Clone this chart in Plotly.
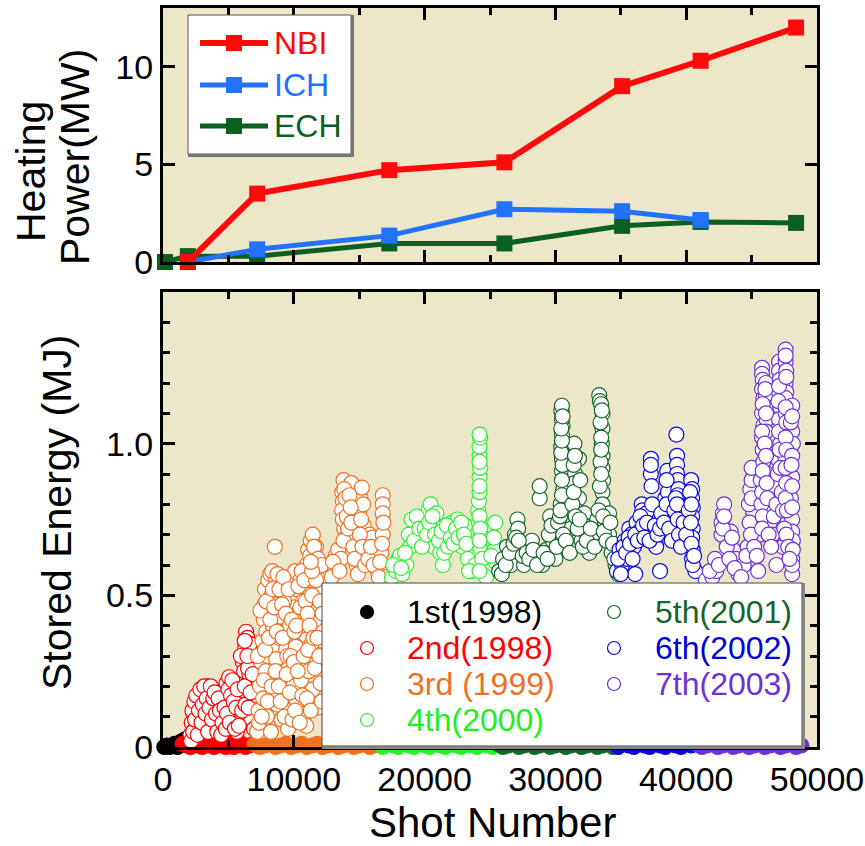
import plotly.graph_objects as go

# ---------------- data: heating power (top panel) ----------------
nbi_shot = [1900, 7200, 17300, 26100, 35100, 41100, 48400]
nbi_mw = [0.0, 3.5, 4.7, 5.1, 9.0, 10.3, 12.0]
ich_shot = [1900, 7200, 17300, 26100, 35100, 41100]
ich_mw = [0.0, 0.65, 1.35, 2.7, 2.6, 2.15]
ech_shot = [150, 1900, 7200, 17300, 26100, 35100, 41100, 48400]
ech_mw = [0.0, 0.3, 0.3, 0.95, 0.95, 1.85, 2.05, 2.0]

# ---------------- data: stored energy (bottom panel), (shot, MJ) ----------------
pts_1st = [(100, 0.0), (300, 0.005), (500, 0.0), (700, 0.005), (900, 0.01), (1100, 0.0),
           (1300, 0.015), (1500, 0.02), (1700, 0.025), (1900, 0.02)]

band_2nd = [(1500, 0.01), (1800, 0.005), (2100, 0.0), (2400, 0.01), (2700, 0.005), (3000, 0.0),
            (3300, 0.01), (3600, 0.005), (3900, 0.0), (4200, 0.01), (4500, 0.005), (4800, 0.0),
            (5100, 0.01), (5400, 0.0), (5700, 0.005), (6000, 0.01), (6300, 0.0), (6600, 0.005),
            (6900, 0.01)]
pts_2nd = [(2100, 0.04), (2200, 0.08), (2350, 0.11), (2500, 0.06), (2600, 0.13), (2700, 0.09),
           (2800, 0.16), (2900, 0.12), (3000, 0.18), (3100, 0.07), (3200, 0.14), (3300, 0.19),
           (3400, 0.20), (3500, 0.10), (3600, 0.17), (3700, 0.15), (3800, 0.19), (3900, 0.12),
           (4000, 0.08), (4100, 0.14), (4200, 0.11), (4300, 0.06), (4400, 0.09), (4500, 0.13),
           (4650, 0.10), (4750, 0.16), (4850, 0.21), (4950, 0.18), (5050, 0.23), (5150, 0.14),
           (5250, 0.20), (5350, 0.08), (5450, 0.12), (5550, 0.17), (5650, 0.05), (5750, 0.10),
           (5900, 0.15), (6000, 0.22), (6100, 0.28), (6200, 0.25), (6300, 0.33), (6350, 0.38),
           (6450, 0.36), (6550, 0.31), (6600, 0.24), (6700, 0.28), (6800, 0.20), (6900, 0.16),
           (7000, 0.12), (6400, 0.18), (6150, 0.10), (6750, 0.09)]
pts_2nd_more = [(2150, 0.02), (2250, 0.12), (2300, 0.05), (2400, 0.15), (2450, 0.09), (2550, 0.17),
                (2650, 0.04), (2750, 0.12), (2850, 0.19), (2950, 0.08), (3050, 0.14), (3150, 0.20),
                (3250, 0.11), (3350, 0.16), (3450, 0.05), (3550, 0.13), (3650, 0.20), (3750, 0.09),
                (3850, 0.16), (3950, 0.18), (4050, 0.11), (4150, 0.05), (4250, 0.16), (4350, 0.12),
                (4450, 0.04), (4550, 0.08), (4700, 0.13), (4800, 0.06), (4900, 0.11), (5000, 0.19),
                (5100, 0.08), (5200, 0.17), (5300, 0.22), (5400, 0.15), (5500, 0.06), (5600, 0.13),
                (5700, 0.19), (5800, 0.07), (5950, 0.30), (6050, 0.12), (6250, 0.20), (6300, 0.14),
                (6500, 0.26), (6550, 0.13), (6650, 0.34), (6700, 0.18), (6850, 0.24), (6950, 0.06),
                (6250, 0.35), (6450, 0.30)]

band_3rd = [(7000, 0.01), (7400, 0.0), (7800, 0.005), (8200, 0.01), (8600, 0.0), (9000, 0.005),
            (9400, 0.01), (9800, 0.0), (10200, 0.005), (10600, 0.01), (11000, 0.0), (11400, 0.005),
            (11800, 0.01), (12200, 0.0), (12600, 0.005), (13000, 0.01), (13400, 0.0), (13800, 0.005),
            (14200, 0.01), (14600, 0.0), (15000, 0.005), (15400, 0.01), (15800, 0.0), (16200, 0.005),
            (16600, 0.01)]
pts_3rd = [(7200, 0.05), (7300, 0.12), (7400, 0.20), (7500, 0.28), (7600, 0.35), (7700, 0.42),
           (7750, 0.47), (7800, 0.52), (7900, 0.38), (8000, 0.30), (8050, 0.55), (8100, 0.45),
           (8200, 0.57), (8300, 0.50), (8400, 0.40), (8550, 0.66), (8500, 0.33), (8600, 0.56),
           (8700, 0.53), (8800, 0.47), (8900, 0.36), (9000, 0.43), (9100, 0.28), (9200, 0.22),
           (9300, 0.38), (9400, 0.32), (9500, 0.45), (9600, 0.26), (9700, 0.40), (9800, 0.50),
           (9900, 0.54), (10000, 0.46), (10100, 0.58), (10200, 0.52), (10300, 0.44), (10400, 0.35),
           (10500, 0.55), (10600, 0.30), (10700, 0.48), (10800, 0.42), (10900, 0.37), (11000, 0.60),
           (11100, 0.65), (11200, 0.55), (11300, 0.68), (11450, 0.70), (11500, 0.62), (11600, 0.50),
           (11700, 0.66), (11800, 0.45), (11900, 0.58), (12000, 0.40), (12100, 0.52), (12200, 0.35),
           (7350, 0.08), (7650, 0.16), (7950, 0.10), (8150, 0.24), (8450, 0.18), (8750, 0.14),
           (9050, 0.09), (9350, 0.17), (9650, 0.12), (9950, 0.20), (10250, 0.15), (10550, 0.22),
           (10850, 0.11), (11150, 0.25), (11450, 0.19), (11750, 0.28), (12050, 0.21), (8250, 0.05),
           (9550, 0.06), (10950, 0.07), (11850, 0.13), (7850, 0.25), (8650, 0.29), (9250, 0.48),
           (10150, 0.33), (10650, 0.40), (11350, 0.34), (11650, 0.42),
           (12600, 0.56), (12800, 0.58), (13100, 0.58), (13200, 0.63), (13300, 0.60), (13400, 0.65),
           (13600, 0.62), (13700, 0.84), (13750, 0.81), (13800, 0.88), (13850, 0.72), (13900, 0.77),
           (14000, 0.69), (14100, 0.80), (14200, 0.74), (14300, 0.86), (14400, 0.87), (14450, 0.82),
           (14500, 0.76), (14600, 0.70), (14700, 0.66), (14800, 0.60), (15000, 0.78), (15100, 0.82),
           (15200, 0.855), (15300, 0.80), (15350, 0.73), (15400, 0.68), (15600, 0.64), (15800, 0.70),
           (16000, 0.69), (16200, 0.62), (16400, 0.58), (16800, 0.83), (16800, 0.80), (16800, 0.77),
           (16800, 0.70), (16700, 0.64), (16900, 0.58), (17100, 0.56)]
pts_3rd_more = [(7250, 0.30), (7450, 0.45), (7550, 0.10), (7700, 0.22), (7800, 0.32), (7900, 0.48),
                (8000, 0.15), (8100, 0.36), (8200, 0.42), (8300, 0.20), (8350, 0.58), (8400, 0.52),
                (8500, 0.46), (8600, 0.25), (8700, 0.38), (8750, 0.57), (8850, 0.20), (8900, 0.52),
                (9000, 0.15), (9100, 0.47), (9150, 0.36), (9200, 0.56), (9300, 0.10), (9400, 0.44),
                (9450, 0.24), (9500, 0.30), (9600, 0.52), (9700, 0.18), (9750, 0.30), (9850, 0.42),
                (9900, 0.09), (10000, 0.28), (10050, 0.38), (10100, 0.12), (10200, 0.40), (10300, 0.25),
                (10350, 0.53), (10450, 0.08), (10500, 0.46), (10600, 0.58), (10650, 0.17), (10750, 0.30),
                (10800, 0.55), (10900, 0.48), (11000, 0.16), (11050, 0.44), (11100, 0.32), (11200, 0.40),
                (11250, 0.63), (11300, 0.12), (11400, 0.50), (11500, 0.36), (11550, 0.66), (11600, 0.26),
                (11700, 0.55), (11800, 0.36), (11850, 0.62), (11950, 0.30), (12000, 0.48), (12100, 0.60),
                (12150, 0.15), (12200, 0.44), (11400, 0.58), (11300, 0.61),
                (12900, 0.56), (13000, 0.61), (13500, 0.58), (13700, 0.78), (13750, 0.75), (13800, 0.68),
                (13850, 0.85), (13950, 0.82), (14050, 0.76), (14150, 0.72), (14250, 0.83), (14350, 0.79),
                (14400, 0.74), (14550, 0.66), (14650, 0.62), (14900, 0.57), (15050, 0.70), (15150, 0.75),
                (15250, 0.66), (15450, 0.60), (15700, 0.62), (15900, 0.66), (16100, 0.60), (16500, 0.56),
                (16850, 0.74), (16750, 0.67), (16600, 0.61)]

band_4th = [(16800, 0.0), (17200, 0.01), (17600, 0.005), (18000, 0.0), (18400, 0.01), (18800, 0.005),
            (19200, 0.0), (19600, 0.01), (20000, 0.005), (20400, 0.0), (20800, 0.01), (21200, 0.005),
            (21600, 0.0), (22000, 0.01), (22400, 0.005), (22800, 0.0), (23200, 0.01), (23600, 0.005),
            (24000, 0.0), (24400, 0.01), (24800, 0.005), (25200, 0.0)]
pts_4th = [(17500, 0.56), (17800, 0.58), (18000, 0.62), (18100, 0.63), (18300, 0.57), (18600, 0.60),
           (18900, 0.66), (19100, 0.71), (19300, 0.72), (19500, 0.68), (19700, 0.74), (19900, 0.70),
           (20100, 0.76), (20300, 0.78), (20450, 0.80), (20500, 0.73), (20700, 0.66), (20900, 0.77),
           (21000, 0.72), (21200, 0.64), (21400, 0.60), (21600, 0.68), (21900, 0.71), (22100, 0.74),
           (22300, 0.70), (22500, 0.75), (22700, 0.72), (22900, 0.66), (23100, 0.73), (23300, 0.62),
           (23600, 0.58), (23900, 0.60), (24100, 0.78), (24150, 0.81), (24200, 0.84), (24200, 0.89),
           (24250, 0.92), (24200, 0.96), (24200, 0.99), (24250, 1.02), (24200, 1.03), (24150, 0.74),
           (24300, 0.70), (24200, 0.66), (24400, 0.62), (25400, 0.74), (25350, 0.65), (25000, 0.58),
           (24700, 0.56)]
pts_4th_more = [(17600, 0.60), (18200, 0.59), (18500, 0.64), (18800, 0.70), (19000, 0.75), (19200, 0.68),
                (19400, 0.76), (19600, 0.72), (19800, 0.66), (20000, 0.72), (20200, 0.70), (20350, 0.74),
                (20600, 0.76), (20800, 0.70), (21100, 0.68), (21300, 0.71), (21500, 0.64), (21700, 0.73),
                (21800, 0.66), (22000, 0.69), (22200, 0.67), (22400, 0.72), (22600, 0.69), (22800, 0.74),
                (23000, 0.70), (23200, 0.67), (23400, 0.58), (24200, 0.86), (24200, 0.94), (24200, 0.76),
                (24250, 0.72), (24200, 0.68), (24200, 0.58), (25300, 0.69), (25450, 0.61), (25100, 0.63)]

band_5th = [(25600, 0.01), (26000, 0.0), (26400, 0.005), (26800, 0.01), (27200, 0.0), (27600, 0.005),
            (28000, 0.01), (28400, 0.0), (28800, 0.005), (29200, 0.01), (29600, 0.0), (30000, 0.005),
            (30400, 0.01), (30800, 0.0), (31200, 0.005), (31600, 0.01), (32000, 0.0), (32400, 0.005),
            (32800, 0.01), (33200, 0.0), (33600, 0.005), (34000, 0.01), (34400, 0.0)]
pts_5th = [(25700, 0.58), (26000, 0.62), (26300, 0.66), (26600, 0.60), (26900, 0.70), (27100, 0.75),
           (27150, 0.72), (27300, 0.64), (27600, 0.60), (27900, 0.67), (28200, 0.68), (28500, 0.63),
           (28800, 0.82), (28800, 0.86), (29000, 0.60), (29300, 0.65), (29600, 0.76), (29800, 0.68),
           (30000, 0.62), (30300, 0.70), (30400, 0.80), (30500, 0.91), (30500, 0.95), (30450, 0.99),
           (30500, 1.03), (30550, 1.06), (30500, 1.08), (30500, 1.10), (30450, 1.11), (30500, 1.125),
           (30600, 0.85), (30700, 0.74), (31000, 0.66), (31200, 0.72), (31450, 1.00), (31500, 0.90),
           (31450, 0.87), (31800, 0.95), (31800, 0.82), (31600, 0.78), (32000, 0.68), (32200, 0.77),
           (32200, 0.73), (32300, 0.71), (32600, 0.64), (32900, 0.70), (33200, 0.75), (33350, 1.16),
           (33400, 1.14), (33500, 1.13), (33600, 1.10), (33600, 1.05), (33550, 1.00), (33600, 0.96),
           (33600, 0.92), (33650, 0.88), (33600, 0.84), (33600, 0.80), (33800, 0.74), (34100, 0.77),
           (34100, 0.70), (34300, 0.64), (34600, 0.60), (34800, 0.57)]
pts_5th_more = [(25900, 0.57), (26200, 0.60), (26500, 0.64), (26800, 0.67), (27000, 0.69), (27200, 0.68),
                (27500, 0.63), (27800, 0.64), (28000, 0.62), (28300, 0.65), (28600, 0.60), (29100, 0.64),
                (29400, 0.62), (29500, 0.70), (29700, 0.73), (30100, 0.66), (30200, 0.74), (30350, 0.76),
                (30500, 0.88), (30500, 0.83), (30550, 0.93), (30450, 0.97), (30500, 1.01), (30450, 1.05),
                (30550, 1.09), (30400, 0.78), (30600, 0.70), (30800, 0.68), (31100, 0.64), (31300, 0.80),
                (31400, 0.93), (31500, 0.96), (31400, 0.84), (31550, 0.76), (31700, 0.72), (31900, 0.88),
                (31850, 0.75), (32100, 0.66), (32400, 0.68), (32700, 0.72), (33000, 0.66), (33300, 0.78),
                (33400, 0.86), (33450, 0.94), (33500, 1.02), (33450, 1.07), (33550, 1.11), (33500, 0.90),
                (33500, 0.98), (33650, 0.76), (33700, 0.71), (33900, 0.68), (34200, 0.74), (34400, 0.67),
                (34500, 0.62)]

band_6th = [(34800, 0.0), (35200, 0.01), (35600, 0.005), (36000, 0.0), (36400, 0.01), (36800, 0.005),
            (37200, 0.0), (37600, 0.01), (38000, 0.005), (38400, 0.0), (38800, 0.01), (39200, 0.005),
            (39600, 0.0), (40000, 0.01), (40400, 0.005)]
pts_6th = [(34700, 0.58), (34900, 0.65), (35100, 0.60), (35300, 0.68), (35500, 0.62), (35650, 0.72),
           (35800, 0.70), (36000, 0.66), (36200, 0.74), (36400, 0.71), (36600, 0.80), (36650, 0.78),
           (36950, 0.77), (37100, 0.72), (37300, 0.95), (37300, 0.90), (37500, 0.70), (37700, 0.66),
           (37940, 0.75), (38200, 0.70), (38400, 0.82), (38550, 0.91), (38600, 0.84), (38800, 0.76),
           (39000, 0.72), (39250, 1.03), (39300, 0.96), (39300, 0.93), (39300, 0.90), (39350, 0.88),
           (39400, 0.85), (39350, 0.83), (39500, 0.78), (39700, 0.72), (39900, 0.68), (40100, 0.75),
           (40380, 0.88), (40450, 0.85), (40450, 0.82), (40500, 0.79), (40450, 0.76), (40500, 0.72),
           (40450, 0.69), (40500, 0.65), (40450, 0.62), (40700, 0.58), (36100, 0.57), (38000, 0.58)]
pts_6th_more = [(34800, 0.62), (35000, 0.57), (35200, 0.66), (35400, 0.64), (35600, 0.69), (35700, 0.67),
                (35900, 0.62), (36100, 0.70), (36300, 0.68), (36500, 0.76), (36700, 0.73), (36800, 0.69),
                (37000, 0.74), (37200, 0.68), (37300, 0.93), (37350, 0.86), (37400, 0.80), (37600, 0.73),
                (37800, 0.70), (38000, 0.72), (38100, 0.77), (38300, 0.74), (38500, 0.88), (38500, 0.80),
                (38700, 0.72), (38900, 0.68), (39100, 0.78), (39200, 0.82), (39300, 0.80), (39350, 0.75),
                (39450, 0.70), (39600, 0.66), (39800, 0.74), (40000, 0.70), (40200, 0.78), (40300, 0.84),
                (40400, 0.80), (40350, 0.74), (40400, 0.67), (40500, 0.60), (40600, 0.63)]

band_7th = [(40800, 0.01), (41200, 0.0), (41600, 0.005), (42000, 0.01), (42400, 0.0), (42800, 0.005),
            (43200, 0.01), (43600, 0.0), (44000, 0.005), (44400, 0.01), (44800, 0.0), (45200, 0.005),
            (45600, 0.01), (46000, 0.0), (46400, 0.005), (46800, 0.01), (47200, 0.0), (47600, 0.005),
            (48000, 0.01), (48400, 0.0), (48800, 0.005)]
pts_7th = [(41500, 0.55), (42000, 0.56), (42300, 0.58), (42700, 0.74), (42800, 0.77), (42900, 0.80),
           (43000, 0.70), (43200, 0.68), (43400, 0.71), (43600, 0.65), (43800, 0.62), (44000, 0.57),
           (44400, 0.60), (44700, 0.66), (44900, 0.85), (45000, 0.88), (45000, 0.92), (45100, 0.78),
           (45300, 0.72), (45600, 0.70), (45800, 1.25), (45800, 1.23), (45850, 1.21), (45800, 1.18),
           (45900, 1.15), (45800, 1.10), (45900, 1.06), (45800, 1.02), (45850, 0.98), (45900, 0.94),
           (46100, 1.20), (46100, 1.16), (46100, 1.12), (46150, 1.08), (46100, 1.04), (46200, 0.90),
           (46300, 0.84), (46200, 0.78), (46400, 0.74), (46600, 0.70), (46800, 0.86), (47000, 0.95),
           (47100, 1.27), (47100, 1.24), (47150, 1.21), (47100, 1.17), (47200, 1.12), (47100, 1.08),
           (47200, 1.00), (47600, 1.31), (47600, 1.27), (47650, 1.24), (47600, 1.20), (47650, 1.17),
           (47600, 1.15), (47600, 1.10), (47700, 1.05), (47600, 0.95), (47700, 0.90), (47600, 0.85),
           (47800, 0.80), (47700, 0.75), (48100, 1.125), (48100, 1.04), (48150, 1.00), (48100, 0.89),
           (48000, 0.82), (48100, 0.75), (48100, 0.71), (48150, 0.68), (48100, 0.62), (48100, 0.57),
           (47400, 0.66), (46900, 0.60), (45500, 0.58)]
pts_7th_more = [(41800, 0.58), (42200, 0.62), (42500, 0.60), (42700, 0.70), (42800, 0.72), (42900, 0.76),
                (43100, 0.66), (43300, 0.62), (43500, 0.69), (43700, 0.59), (44200, 0.56), (44600, 0.63),
                (44800, 0.80), (44850, 0.74), (44950, 0.70), (45000, 0.82), (45200, 0.66), (45400, 0.63),
                (45700, 0.88), (45750, 0.80), (45800, 0.84), (45850, 0.76), (45800, 0.72), (45850, 1.13),
                (45800, 1.04), (45850, 0.91), (46000, 1.00), (46050, 1.18), (46100, 1.10), (46100, 0.96),
                (46150, 0.87), (46200, 0.82), (46300, 0.70), (46500, 0.66), (46700, 0.76), (46900, 0.80),
                (47000, 0.90), (47100, 1.19), (47050, 1.14), (47100, 1.04), (47150, 0.98), (47200, 0.92),
                (47300, 0.84), (47400, 0.78), (47500, 0.72), (47600, 1.29), (47650, 1.22), (47600, 1.12),
                (47650, 1.07), (47600, 1.02), (47650, 0.98), (47600, 0.92), (47650, 0.87), (47600, 0.82),
                (47700, 0.78), (47650, 0.70), (47800, 0.66), (48000, 1.07), (48100, 1.09), (48100, 0.96),
                (48050, 0.93), (48100, 0.86), (48100, 0.79), (48150, 0.65), (48100, 0.60), (47900, 0.62)]

campaign_names = ["1st(1998)", "2nd(1998)", "3rd (1999)", "4th(2000)", "5th(2001)", "6th(2002)", "7th(2003)"]
x_tick_vals = [0, 10000, 20000, 30000, 40000, 50000]
x_tick_text = ["0", "10000", "20000", "30000", "40000", "50000"]
top_y_vals = [0, 5, 10]
top_y_text = ["0", "5", "10"]
bot_y_vals = [0, 0.5, 1.0]
bot_y_text = ["0", "0.5", "1.0"]

# ---------------- styles ----------------
W, H = 865, 846
FONT = "Liberation Sans, Arial, sans-serif"
BG = "#ede7c9"
camp_colors = ["#000000", "#ff0000", "#f07022", "#2ef02e", "#17662a", "#0a0adc", "#7030d8"]
legend_text_colors = ["#000000", "#ff0000", "#f07022", "#22ee22", "#17662a", "#0000dd", "#7030d8"]
nbi_c, ich_c, ech_c = "#ff0a0a", "#2272ff", "#0b5f1f"


def PX(x):
    return x / W


def PY(y):
    return 1 - y / H


fig = go.Figure()

# top panel traces (ECH under ICH under NBI)
for xs, ys, c, lw in [(ech_shot, ech_mw, ech_c, 5), (ich_shot, ich_mw, ich_c, 5), (nbi_shot, nbi_mw, nbi_c, 6)]:
    fig.add_trace(go.Scatter(x=xs, y=ys, mode="lines+markers", xaxis="x", yaxis="y",
                             line=dict(color=c, width=lw),
                             marker=dict(symbol="square", size=16, color=c),
                             cliponaxis=False, showlegend=False, hoverinfo="skip"))

# bottom panel traces
bands = [None, band_2nd, band_3rd, band_4th, band_5th, band_6th, band_7th]
pts = [pts_1st, pts_2nd + pts_2nd_more, pts_3rd + pts_3rd_more, pts_4th + pts_4th_more,
       pts_5th + pts_5th_more, pts_6th + pts_6th_more, pts_7th + pts_7th_more]
for i in range(7):
    c = camp_colors[i]
    if bands[i] is not None:
        bx, by = zip(*bands[i])
        fig.add_trace(go.Scatter(x=list(bx), y=list(by), mode="markers", xaxis="x2", yaxis="y2",
                                 marker=dict(symbol="circle", size=15, color=c, line=dict(color=c, width=1.2)),
                                 cliponaxis=False, showlegend=False, hoverinfo="skip"))
    px_, py_ = zip(*pts[i])
    fill = c if i == 0 else "white"
    fig.add_trace(go.Scatter(x=list(px_), y=list(py_), mode="markers", xaxis="x2", yaxis="y2",
                             name=campaign_names[i],
                             marker=dict(symbol="circle", size=15, color=fill, line=dict(color=c, width=1.2)),
                             cliponaxis=False, showlegend=False, hoverinfo="skip"))

axis_common = dict(showline=True, linecolor="black", linewidth=3, mirror="ticks", ticks="inside",
                   tickcolor="black", tickwidth=2.5, showgrid=False, zeroline=False, automargin=False,
                   tickfont=dict(family=FONT, size=34, color="black"))

xdom = [163 / W, 817 / W]
fig.update_layout(
    width=W, height=H, margin=dict(l=0, r=0, t=0, b=0, autoexpand=False),
    paper_bgcolor="white", plot_bgcolor=BG, showlegend=False,
    xaxis=dict(domain=xdom, anchor="y", range=[0, 50000], tickvals=x_tick_vals, ticktext=x_tick_text,
               showticklabels=False, ticklen=12,
               minor=dict(dtick=5000, ticklen=7, ticks="inside", tickcolor="black", tickwidth=2.5),
               **axis_common),
    yaxis=dict(domain=[PY(262), PY(8)], anchor="x", range=[0, 13], tickvals=top_y_vals, ticktext=top_y_text,
               ticklen=12, **axis_common),
    xaxis2=dict(domain=xdom, anchor="y2", range=[0, 50000], tickvals=x_tick_vals, ticktext=x_tick_text,
                ticklen=12,
                minor=dict(dtick=5000, ticklen=7, ticks="inside", tickcolor="black", tickwidth=2.5),
                **axis_common),
    yaxis2=dict(domain=[PY(747), PY(292)], anchor="x2", range=[0, 1.5], tickvals=bot_y_vals, ticktext=bot_y_text,
                ticklen=12,
                minor=dict(dtick=0.1, ticklen=7, ticks="inside", tickcolor="black", tickwidth=2.5),
                **axis_common),
)

shapes = []
annotations = []

# axis titles
annotations.append(dict(text="Shot Number", x=PX(492), y=PY(822), xref="paper", yref="paper",
                        showarrow=False, font=dict(family=FONT, size=42, color="black"),
                        xanchor="center", yanchor="middle"))
annotations.append(dict(text="Stored Energy (MJ)", x=PX(57), y=PY(513), xref="paper", yref="paper",
                        showarrow=False, textangle=-90, font=dict(family=FONT, size=41, color="black"),
                        xanchor="center", yanchor="middle"))
annotations.append(dict(text="Heating", x=PX(31), y=PY(172), xref="paper", yref="paper",
                        showarrow=False, textangle=-90, font=dict(family=FONT, size=41, color="black"),
                        xanchor="center", yanchor="middle"))
annotations.append(dict(text="Power(MW)", x=PX(75), y=PY(157), xref="paper", yref="paper",
                        showarrow=False, textangle=-90, font=dict(family=FONT, size=41, color="black"),
                        xanchor="center", yanchor="middle"))

# top legend (drawn)
shapes.append(dict(type="rect", xref="paper", yref="paper", x0=PX(189), x1=PX(353), y0=PY(156), y1=PY(16),
                   line=dict(color="#777777", width=2), fillcolor="#999999", layer="above"))
shapes.append(dict(type="rect", xref="paper", yref="paper", x0=PX(188), x1=PX(351), y0=PY(154), y1=PY(15),
                   line=dict(color="#555555", width=1), fillcolor="white", layer="above"))
for name, c, yy, lw in [("NBI", nbi_c, 43, 6), ("ICH", ich_c, 85, 5), ("ECH", ech_c, 126, 5)]:
    shapes.append(dict(type="line", xref="paper", yref="paper", x0=PX(200), x1=PX(268), y0=PY(yy), y1=PY(yy),
                       line=dict(color=c, width=lw), layer="above"))
    shapes.append(dict(type="rect", xref="paper", yref="paper", x0=PX(226), x1=PX(242), y0=PY(yy + 8),
                       y1=PY(yy - 8), line=dict(color=c, width=0), fillcolor=c, layer="above"))
    annotations.append(dict(text=name, x=PX(272), y=PY(yy), xref="paper", yref="paper", showarrow=False,
                            font=dict(family=FONT, size=32, color=c), xanchor="left", yanchor="middle"))

# bottom legend (drawn)
shapes.append(dict(type="rect", xref="paper", yref="paper", x0=PX(323), x1=PX(804), y0=PY(748), y1=PY(584),
                   line=dict(color="#888888", width=2), fillcolor="#aaaaaa", layer="above"))
shapes.append(dict(type="rect", xref="paper", yref="paper", x0=PX(322), x1=PX(802), y0=PY(746), y1=PY(583),
                   line=dict(color="#444444", width=1), fillcolor="white", layer="above"))
leg_pos = [(367, 405, 612), (367, 405, 648), (367, 405, 684), (367, 405, 720),
           (614, 653, 612), (614, 653, 648), (614, 653, 684)]
for i, (mx, tx, yy) in enumerate(leg_pos):
    c = camp_colors[i]
    shapes.append(dict(type="circle", xref="paper", yref="paper", x0=PX(mx - 6.5), x1=PX(mx + 6.5),
                       y0=PY(yy + 6.5), y1=PY(yy - 6.5), line=dict(color=c, width=1.2),
                       fillcolor=c if i == 0 else "white", layer="above"))
    annotations.append(dict(text=campaign_names[i], x=PX(tx), y=PY(yy), xref="paper", yref="paper",
                            showarrow=False, font=dict(family=FONT, size=32, color=legend_text_colors[i]),
                            xanchor="left", yanchor="middle"))

fig.update_layout(shapes=shapes, annotations=annotations)
fig.write_html("out.html", config={"displayModeBar": False},
               post_script="document.body.style.margin='0px';")
